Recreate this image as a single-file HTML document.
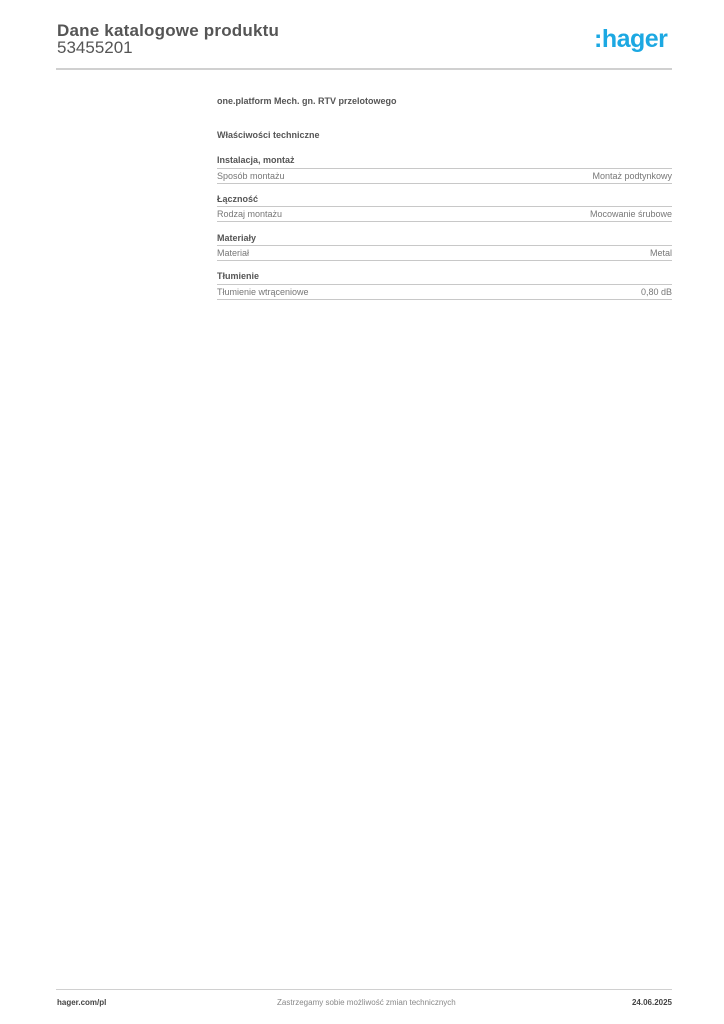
<!DOCTYPE html>
<html><head><meta charset="utf-8"><style>
body{margin:0;width:724px;height:1024px;background:#fff;position:relative;font-family:"Liberation Sans",Arial,sans-serif;color:#555;overflow:hidden}
.a{position:absolute;white-space:nowrap}
.hr{position:absolute;height:1px;background:#c8c8c8}
.sec{font-weight:bold;font-size:9px;color:#555}
.row{font-size:9px;color:#777}
</style></head><body>
<div class="a" style="left:57px;top:21px;font-size:17px;font-weight:bold;color:#555;letter-spacing:0.2px">Dane katalogowe produktu</div>
<div class="a" style="left:57px;top:38px;font-size:17px;color:#555">53455201</div>
<div class="a" style="left:594px;top:25px;font-size:25px;font-weight:bold;color:#1ca8e2;letter-spacing:-0.5px">:hager</div>
<div class="hr" style="left:56px;top:68px;width:616px;height:2px;background:#d0d0d0"></div>

<div class="a sec" style="left:217px;top:96px">one.platform Mech. gn. RTV przelotowego</div>
<div class="a sec" style="left:217px;top:130px">Właściwości techniczne</div>

<div class="a sec" style="left:217px;top:155px">Instalacja, montaż</div>
<div class="hr" style="left:217px;top:168px;width:455px"></div>
<div class="a row" style="left:217px;top:171px">Sposób montażu</div>
<div class="a row" style="right:52px;top:171px">Montaż podtynkowy</div>
<div class="hr" style="left:217px;top:183px;width:455px"></div>

<div class="a sec" style="left:217px;top:194px">Łączność</div>
<div class="hr" style="left:217px;top:206px;width:455px"></div>
<div class="a row" style="left:217px;top:209px">Rodzaj montażu</div>
<div class="a row" style="right:52px;top:209px">Mocowanie śrubowe</div>
<div class="hr" style="left:217px;top:221px;width:455px"></div>

<div class="a sec" style="left:217px;top:233px">Materiały</div>
<div class="hr" style="left:217px;top:245px;width:455px"></div>
<div class="a row" style="left:217px;top:248px">Materiał</div>
<div class="a row" style="right:52px;top:248px">Metal</div>
<div class="hr" style="left:217px;top:260px;width:455px"></div>

<div class="a sec" style="left:217px;top:271px">Tłumienie</div>
<div class="hr" style="left:217px;top:284px;width:455px"></div>
<div class="a row" style="left:217px;top:287px">Tłumienie wtrąceniowe</div>
<div class="a row" style="right:52px;top:287px">0,80 dB</div>
<div class="hr" style="left:217px;top:299px;width:455px"></div>

<div class="hr" style="left:56px;top:989px;width:616px;background:#d0d0d0"></div>
<div class="a" style="left:57px;top:998px;font-size:8px;font-weight:bold;color:#444">hager.com/pl</div>
<div class="a" style="left:277px;top:998px;font-size:8px;color:#888">Zastrzegamy sobie możliwość zmian technicznych</div>
<div class="a" style="right:52px;top:998px;font-size:8px;font-weight:bold;color:#444">24.06.2025</div>
</body></html>
